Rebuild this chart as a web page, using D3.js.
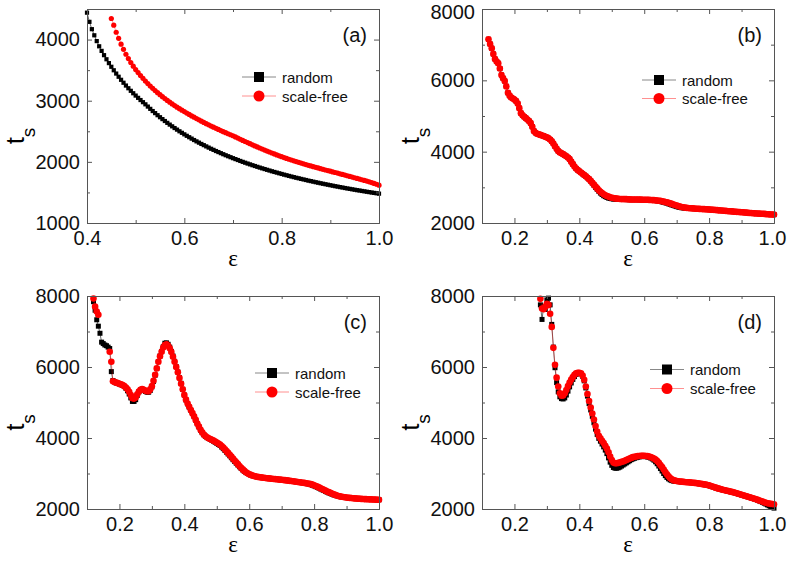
<!DOCTYPE html>
<html><head><meta charset="utf-8">
<script src="https://cdn.jsdelivr.net/npm/d3@7"></script>
<style>
body{margin:0;background:#fff;}
svg{display:block;font-family:Arial,"Liberation Sans",Helvetica,sans-serif;}
</style>
</head><body>
<svg id="chart" width="787" height="563"></svg>
<script>
// ---------------- DATA ----------------
const seriesNames = ["random", "scale-free"];
const panelLabels = ["(a)", "(b)", "(c)", "(d)"];
const xTickLabelsAll = [0.2, 0.4, 0.6, 0.8, 1.0];
const xTickLabelsA = [0.4, 0.6, 0.8, 1.0];
const yTickLabelsA = [1000, 2000, 3000, 4000];
const yTickLabelsBCD = [2000, 4000, 6000, 8000];

// epsilon grids: start value and step of each sampled series
const epsA_random = {start: 0.40, step: 0.005};
const epsA_scalefree = {start: 0.45, step: 0.005};
const epsB = {start: 0.12, step: 0.005};
const epsC = {start: 0.12, step: 0.005};
const epsD = {start: 0.28, step: 0.005};

const aRandom = [
4440,4290,4170,4070,3975,3890,3815,3745,3678,3615,
3555,3498,3444,3392,3342,3294,3248,3204,3162,3122,
3084,3047,3011,2976,2941,2904,2867,2831,2797,2763,
2730,2699,2668,2638,2609,2581,2553,2527,2500,2475,
2450,2426,2403,2380,2357,2335,2314,2293,2273,2253,
2233,2214,2196,2177,2160,2142,2125,2108,2092,2076,
2060,2045,2030,2015,2000,1986,1972,1959,1945,1932,
1919,1906,1894,1882,1870,1858,1846,1835,1824,1813,
1802,1791,1781,1770,1760,1750,1740,1731,1721,1712,
1703,1693,1685,1676,1667,1659,1650,1642,1634,1626,
1618,1610,1602,1595,1587,1580,1572,1565,1558,1551,
1544,1537,1531,1524,1518,1511,1505,1498,1492,1486,
1480];
const aScaleFree = [
4345,4236,4120,4020,3925,3840,3760,3690,3625,3565,
3510,3460,3412,3366,3322,3280,3240,3202,3166,3131,
3098,3066,3035,3005,2976,2948,2921,2895,2870,2846,
2822,2798,2775,2752,2730,2708,2687,2666,2645,2625,
2605,2586,2567,2548,2530,2512,2494,2477,2460,2443,
2427,2408,2389,2370,2351,2333,2315,2297,2279,2261,
2244,2227,2210,2193,2177,2161,2145,2129,2114,2099,
2084,2070,2056,2043,2030,2017,2004,1992,1980,1968,
1956,1944,1933,1922,1911,1900,1889,1878,1867,1857,
1847,1836,1826,1816,1805,1795,1784,1773,1762,1751,
1740,1729,1718,1707,1696,1685,1673,1661,1648,1634,
1618];

const bRandom = [
7150,7020,6900,6740,6600,6530,6480,6330,6150,6060,
5980,5830,5650,5570,5520,5490,5460,5420,5350,5220,
5080,5020,4980,4940,4900,4860,4800,4700,4580,4530,
4500,4485,4470,4455,4440,4420,4400,4375,4340,4290,
4230,4150,4080,4020,3980,3955,3930,3900,3870,3835,
3790,3720,3650,3585,3530,3485,3450,3415,3380,3345,
3310,3270,3230,3175,3120,3060,3000,2945,2890,2840,
2800,2765,2740,2718,2700,2688,2680,2672,2670,2668,
2665,2662,2660,2660,2660,2658,2655,2655,2655,2655,
2655,2655,2655,2652,2650,2648,2645,2645,2645,2642,
2640,2638,2635,2630,2625,2615,2605,2592,2580,2567,
2555,2538,2520,2505,2490,2475,2460,2448,2435,2428,
2425,2420,2415,2412,2410,2408,2405,2402,2400,2398,
2395,2392,2390,2388,2385,2382,2380,2375,2370,2368,
2365,2360,2355,2352,2350,2345,2340,2335,2330,2328,
2325,2320,2315,2312,2310,2305,2300,2298,2295,2290,
2285,2282,2280,2275,2270,2268,2265,2262,2260,2258,
2255,2250,2245,2242,2240,2238,2235];
const bScaleFree = [
7150,7020,6900,6740,6600,6530,6480,6330,6150,6060,
5980,5830,5650,5570,5520,5490,5460,5420,5350,5220,
5080,5020,4980,4940,4900,4860,4800,4700,4580,4530,
4500,4485,4470,4455,4440,4420,4400,4375,4340,4290,
4230,4150,4080,4020,3980,3955,3930,3900,3870,3835,
3790,3720,3650,3585,3530,3485,3450,3415,3380,3345,
3310,3270,3230,3180,3130,3075,3020,2970,2920,2878,
2840,2808,2780,2758,2740,2724,2710,2700,2690,2685,
2680,2675,2670,2670,2670,2668,2665,2662,2660,2660,
2660,2660,2660,2658,2655,2652,2650,2650,2650,2648,
2645,2642,2640,2635,2630,2625,2620,2610,2600,2590,
2578,2565,2550,2535,2520,2505,2490,2475,2460,2450,
2440,2432,2425,2420,2415,2412,2410,2405,2400,2398,
2395,2392,2390,2388,2385,2382,2380,2375,2370,2368,
2365,2360,2355,2352,2350,2345,2340,2335,2330,2328,
2325,2320,2315,2312,2310,2305,2300,2298,2295,2290,
2285,2282,2280,2275,2270,2268,2265,2262,2260,2258,
2255,2250,2245,2242,2240,2238,2235];

const cRandom = [
7840,7600,7330,7150,6950,6700,6660,6620,6600,6560,
6520,5870,5620,5580,5550,5535,5520,5500,5480,5450,
5400,5330,5240,5130,5030,5030,5080,5200,5300,5350,
5370,5350,5310,5290,5290,5340,5440,5590,5770,5960,
6150,6310,6440,6570,6670,6680,6640,6560,6440,6310,
6160,6010,5860,5700,5540,5370,5210,5070,4960,4870,
4780,4690,4600,4500,4400,4310,4220,4150,4090,4045,
4010,3985,3960,3935,3910,3880,3850,3820,3790,3745,
3700,3650,3600,3550,3500,3445,3390,3340,3290,3240,
3190,3145,3100,3060,3025,3000,2975,2955,2940,2927,
2915,2906,2898,2891,2885,2879,2873,2867,2862,2857,
2852,2847,2842,2837,2832,2827,2822,2817,2812,2806,
2800,2793,2787,2781,2775,2768,2762,2755,2748,2740,
2732,2722,2712,2700,2686,2668,2650,2630,2610,2588,
2565,2542,2520,2497,2475,2455,2435,2417,2400,2385,
2372,2360,2350,2342,2335,2328,2322,2317,2312,2307,
2303,2299,2295,2291,2288,2285,2282,2279,2277,2274,
2272,2270,2268,2266,2264,2262,2260];
const cScaleFree = [
7930,7700,7560,7470,null,null,null,null,null,null,
6430,6150,5600,5575,5560,5545,5530,5510,5490,5460,
5420,5370,5300,5210,5120,5110,5140,5230,5310,5360,
5380,5360,5330,5320,5320,5370,5460,5610,5780,5960,
6150,6300,6430,6550,6620,6640,6600,6530,6420,6290,
6150,6000,5850,5690,5530,5370,5210,5080,4970,4880,
4790,4700,4610,4510,4410,4320,4230,4160,4100,4055,
4020,3995,3970,3948,3925,3898,3870,3843,3815,3773,
3730,3680,3630,3580,3530,3475,3420,3368,3315,3263,
3210,3162,3115,3073,3035,3005,2980,2960,2945,2930,
2915,2906,2898,2891,2885,2879,2873,2867,2862,2857,
2852,2847,2842,2837,2832,2827,2822,2817,2812,2806,
2800,2793,2787,2781,2775,2768,2762,2755,2748,2740,
2735,2727,2718,2708,2700,2686,2670,2650,2630,2608,
2585,2562,2540,2517,2495,2475,2455,2435,2415,2397,
2380,2367,2355,2346,2338,2331,2324,2318,2313,2308,
2303,2299,2295,2291,2288,2285,2282,2279,2277,2274,
2272,2270,2268,2266,2264,2262,2260];

const dRandom = [
7750,7340,7700,7620,7890,7940,7750,7200,6560,5980,
5560,5300,5160,5110,5100,5130,5210,5320,5440,5550,
5650,5730,5790,5820,5830,5810,5740,5610,5410,5180,
4970,4790,4610,4430,4250,4100,3990,3910,3830,3750,
3660,3560,3440,3320,3230,3170,3150,3150,3160,3180,
3210,3240,3270,3300,3330,3360,3390,3410,3430,3445,
3460,3470,3475,3478,3478,3475,3468,3455,3435,3410,
3375,3330,3275,3210,3140,3070,3000,2940,2890,2850,
2820,2800,2788,2780,2775,2772,2770,2766,2762,2758,
2754,2750,2747,2742,2737,2732,2727,2720,2712,2705,
2697,2690,2682,2671,2660,2645,2630,2613,2597,2582,
2568,2555,2543,2532,2521,2510,2499,2488,2476,2465,
2452,2439,2425,2411,2397,2384,2370,2356,2342,2328,
2313,2298,2283,2266,2248,2229,2208,2186,2163,2140,
2115,2090,2065,2045,2025];
const dScaleFree = [
7920,7650,7630,7700,7780,7750,7500,7130,6540,6060,
5700,5450,5260,5190,5200,5260,5350,5460,5560,5650,
5720,5780,5820,5840,5840,5820,5760,5640,5450,5240,
5040,4860,4690,4520,4340,4180,4060,3990,3920,3860,
3780,3700,3600,3480,3380,3310,3290,3290,3300,3310,
3330,3340,3360,3380,3400,3420,3440,3460,3470,3480,
3490,3495,3500,3500,3500,3495,3490,3480,3465,3445,
3420,3390,3350,3300,3240,3180,3110,3040,2980,2920,
2870,2835,2812,2798,2788,2780,2775,2770,2765,2760,
2755,2752,2750,2745,2740,2735,2730,2722,2715,2708,
2700,2693,2686,2675,2665,2650,2635,2618,2602,2587,
2573,2560,2548,2537,2526,2515,2504,2493,2481,2470,
2457,2444,2430,2416,2402,2389,2375,2361,2347,2333,
2318,2303,2288,2272,2256,2240,2224,2208,2192,2177,
2164,2153,2145,2140,2135];

// ---------------- LAYOUT ----------------
const withEps = (grid, vals) => vals.map((v, i) => [+(grid.start + i * grid.step).toFixed(3), v]);

const panels = [
  {label: panelLabels[0], box: {l: 87, t: 9, r: 379, b: 223},
   xDomain: [0.4, 1.0], yDomain: [1000, 4500],
   xTicks: xTickLabelsA, yTicks: yTickLabelsA, yMinorStep: 500,
   random: withEps(epsA_random, aRandom), scale: withEps(epsA_scalefree, aScaleFree),
   big: false, legend: {mx: 259, y1: 77, y2: 96}},
  {label: panelLabels[1], box: {l: 482, t: 9, r: 774, b: 223},
   xDomain: [0.1, 1.0], yDomain: [2000, 8000],
   xTicks: xTickLabelsAll, yTicks: yTickLabelsBCD, yMinorStep: 1000,
   random: withEps(epsB, bRandom), scale: withEps(epsB, bScaleFree),
   big: true, legend: {mx: 659, y1: 80, y2: 98.5}},
  {label: panelLabels[2], box: {l: 87, t: 296, r: 379, b: 509},
   xDomain: [0.1, 1.0], yDomain: [2000, 8000],
   xTicks: xTickLabelsAll, yTicks: yTickLabelsBCD, yMinorStep: 1000,
   random: withEps(epsC, cRandom), scale: withEps(epsC, cScaleFree),
   big: true, legend: {mx: 272, y1: 373, y2: 392}},
  {label: panelLabels[3], box: {l: 482, t: 296, r: 774, b: 509},
   xDomain: [0.1, 1.0], yDomain: [2000, 8000],
   xTicks: xTickLabelsAll, yTicks: yTickLabelsBCD, yMinorStep: 1000,
   random: withEps(epsD, dRandom), scale: withEps(epsD, dScaleFree),
   big: true, legend: {mx: 667, y1: 369.5, y2: 388.5}}
];

const svg = d3.select("#chart");
const FRAME = "#555";
const RED = "#ff0000";

panels.forEach(p => {
  const {l, t, r, b} = p.box;
  const x = d3.scaleLinear().domain(p.xDomain).range([l, r]);
  const y = d3.scaleLinear().domain(p.yDomain).range([b, t]);
  const g = svg.append("g");

  const xMinor = d3.range(Math.round(p.xDomain[0] * 10), Math.round(p.xDomain[1] * 10) + 1)
      .map(v => v / 10).filter(v => !p.xTicks.some(tk => Math.abs(tk - v) < 1e-6));
  const yMinor = d3.range(p.yDomain[0], p.yDomain[1] + 1, p.yMinorStep)
      .filter(v => !p.yTicks.includes(v));

  const styleAxis = sel => {
    sel.selectAll(".domain").attr("stroke", FRAME).attr("stroke-width", 1);
    sel.selectAll(".tick line").attr("stroke", FRAME).attr("stroke-width", 1);
    sel.selectAll(".tick text").attr("fill", "#111").style("font-size", "20px")
       .style("font-family", "Arial, 'Liberation Sans', sans-serif");
  };

  // series first (frame drawn over)
  const sq = p.big ? 5 : 4.2;
  const rad = p.big ? 3.3 : 2.6;
  const line = d3.line().defined(d => d[1] != null).x(d => x(d[0])).y(d => y(d[1]));
  const plot = g.append("g");
  plot.append("path").datum(p.random).attr("d", line).attr("fill", "none")
    .attr("stroke", "#000").attr("stroke-width", 0.6);
  plot.selectAll("rect.rnd").data(p.random.filter(d => d[1] != null)).join("rect")
    .attr("x", d => x(d[0]) - sq / 2).attr("y", d => y(d[1]) - sq / 2)
    .attr("width", sq).attr("height", sq).attr("fill", "#000");
  plot.append("path").datum(p.scale).attr("d", line).attr("fill", "none")
    .attr("stroke", RED).attr("stroke-width", 0.6).attr("stroke-opacity", 0.6);
  plot.selectAll("circle.sf").data(p.scale.filter(d => d[1] != null)).join("circle")
    .attr("cx", d => x(d[0])).attr("cy", d => y(d[1])).attr("r", rad).attr("fill", RED);

  // bottom
  const bx = g.append("g").attr("transform", `translate(0,${b})`)
    .call(d3.axisBottom(x).tickValues(p.xTicks).tickFormat(d3.format(".1f")).tickSize(-5).tickSizeOuter(0).tickPadding(8))
    .call(styleAxis);
  if (l > 400) bx.selectAll(".tick text").filter(d => d === 1.0).attr("dx", -2);
  g.append("g").attr("transform", `translate(0,${b})`)
    .call(d3.axisBottom(x).tickValues(xMinor).tickFormat("").tickSize(-3).tickSizeOuter(0)).call(styleAxis);
  // top
  g.append("g").attr("transform", `translate(0,${t})`)
    .call(d3.axisTop(x).tickValues(p.xTicks).tickFormat("").tickSize(-5).tickSizeOuter(0)).call(styleAxis);
  g.append("g").attr("transform", `translate(0,${t})`)
    .call(d3.axisTop(x).tickValues(xMinor).tickFormat("").tickSize(-3).tickSizeOuter(0)).call(styleAxis);
  // left
  const ly = g.append("g").attr("transform", `translate(${l},0)`)
    .call(d3.axisLeft(y).tickValues(p.yTicks).tickFormat(d3.format("d")).tickSize(-5).tickSizeOuter(0).tickPadding(7))
    .call(styleAxis);
  if (t < 20) ly.selectAll(".tick text").filter(d => d === 8000).attr("dy", "0.47em");
  g.append("g").attr("transform", `translate(${l},0)`)
    .call(d3.axisLeft(y).tickValues(yMinor).tickFormat("").tickSize(-3).tickSizeOuter(0)).call(styleAxis);
  // right
  g.append("g").attr("transform", `translate(${r},0)`)
    .call(d3.axisRight(y).tickValues(p.yTicks).tickFormat("").tickSize(-5).tickSizeOuter(0)).call(styleAxis);
  g.append("g").attr("transform", `translate(${r},0)`)
    .call(d3.axisRight(y).tickValues(yMinor).tickFormat("").tickSize(-3).tickSizeOuter(0)).call(styleAxis);

  // axis titles
  const cx = (l + r) / 2, cy = (t + b) / 2;
  g.append("text").attr("x", cx).attr("y", b + 43).attr("text-anchor", "middle")
    .style("font-family", "'Liberation Serif', 'DejaVu Serif', serif").style("font-size", "23px")
    .text("ε");
  const yl = g.append("text").attr("transform", `translate(${l - 63},${cy + 20}) rotate(-90)`)
    .attr("text-anchor", "middle").style("font-size", "26px");
  yl.append("tspan").text("t");
  yl.append("tspan").attr("dy", 11).style("font-size", "19px").text("s");

  // panel label
  g.append("text").attr("x", r - 12).attr("y", t + 33).attr("text-anchor", "end")
    .style("font-size", "20px").attr("fill", "#111").text(p.label);

  // legend
  const lg = g.append("g");
  const L = p.legend;
  lg.append("line").attr("x1", L.mx - 17).attr("x2", L.mx + 17).attr("y1", L.y1).attr("y2", L.y1)
    .attr("stroke", "#888").attr("stroke-width", 1);
  lg.append("rect").attr("x", L.mx - 5).attr("y", L.y1 - 5).attr("width", 10).attr("height", 10).attr("fill", "#000");
  lg.append("text").attr("x", L.mx + 23).attr("y", L.y1 + 5.5).style("font-size", "15px").attr("fill", "#111").text(seriesNames[0]);
  lg.append("line").attr("x1", L.mx - 17).attr("x2", L.mx + 17).attr("y1", L.y2).attr("y2", L.y2)
    .attr("stroke", "#ff9090").attr("stroke-width", 1);
  lg.append("circle").attr("cx", L.mx).attr("cy", L.y2).attr("r", 5.5).attr("fill", RED);
  lg.append("text").attr("x", L.mx + 23).attr("y", L.y2 + 5.5).style("font-size", "15px").attr("fill", "#111").text(seriesNames[1]);
});
</script>
</body></html>
